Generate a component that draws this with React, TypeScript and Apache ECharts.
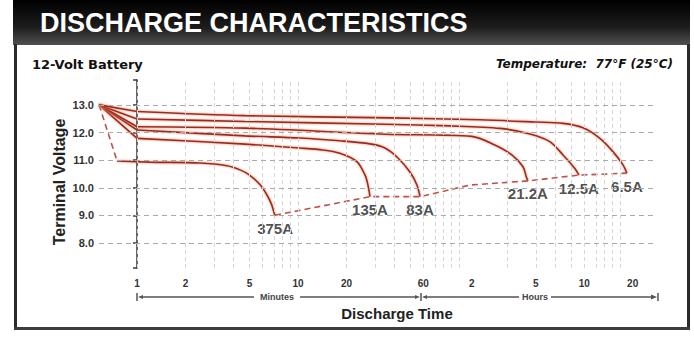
import React, { useEffect, useRef } from 'react';
import * as echarts from 'echarts';

// ---- axis data ----
const xTickMinutes = [1, 2, 5, 10, 20, 60, 120, 300, 600, 1200];
const xTickLabels = ['1', '2', '5', '10', '20', '60', '2', '5', '10', '20'];
const yTickVolts = [8, 9, 10, 11, 12, 13];
const xGridMinutes = [1, 2, 3, 4, 5, 6, 7, 8, 9, 10, 20, 30, 40, 50, 60, 70, 80, 90, 100, 200, 300, 400, 500, 600, 700, 800, 900, 1000];
const xMinMinutes = 0.58;
const xMaxMinutes = 1700;
const yMinVolt = 7.1;
const yMaxVolt = 13.9;

// ---- curves: [minutes, volts]; first point = start, second = knee ----
const curve375 = [[0.581, 13.0], [0.751, 10.97], [1.2, 10.93], [2.46, 10.9], [3.62, 10.8], [4.4, 10.64], [5.0, 10.46], [5.8, 10.12], [6.4, 9.75], [6.85, 9.4], [7.1, 9.1], [7.2, 9.01]];
const curve135 = [[0.581, 13.0], [1.0, 11.79], [4.69, 11.58], [10.3, 11.44], [14.3, 11.37], [18.2, 11.25], [23.2, 10.95], [26.1, 10.46], [27.2, 10.1], [28.0, 9.68]];
const curve83 = [[0.581, 13.0], [1.0, 12.09], [4.69, 11.88], [10.3, 11.8], [18.2, 11.7], [28.0, 11.59], [34.7, 11.44], [41.8, 11.08], [49.6, 10.57], [54.8, 10.1], [57.3, 9.68]];
const curve21 = [[0.581, 13.0], [1.0, 12.21], [4.69, 12.16], [34.7, 11.94], [120, 11.86], [167, 11.55], [213, 11.19], [250, 10.76], [262, 10.4], [268, 10.25]];
const curve12 = [[0.581, 13.0], [1.0, 12.49], [4.69, 12.4], [34.7, 12.3], [87.9, 12.24], [180, 12.15], [276, 11.95], [367, 11.67], [443, 11.19], [525, 10.7], [556, 10.46]];
const curve6 = [[0.581, 13.0], [1.0, 12.76], [4.69, 12.61], [37.3, 12.53], [135, 12.46], [297, 12.38], [443, 12.33], [589, 12.17], [751, 11.79], [905, 11.31], [1045, 10.83], [1105, 10.53]];
const endVoltage = [[7.2, 9.01], [28.0, 9.68], [57.3, 9.68], [117, 10.1], [268, 10.25], [556, 10.46], [1105, 10.53]];
const endLabels = ['375A', '135A', '83A', '', '21.2A', '12.5A', '6.5A'];

const lg = (pts: number[][]) => pts.map(([t, v]) => [Math.log10(t), v]);

const CURVE_COLOR = '#9b2a22';

function lineSeries(name: string, pts: number[][], opts: { dashed?: boolean; smooth?: number | boolean; color?: string }) {
  const dashed = !!opts.dashed;
  return {
    name,
    type: 'line',
    data: lg(pts),
    smooth: opts.smooth ?? false,
    symbol: 'none',
    z: 3,
    silent: true,
    emphasis: { disabled: true },
    lineStyle: {
      color: opts.color ?? (dashed ? '#c0504a' : CURVE_COLOR),
      width: 1.6,
      type: dashed ? [6, 4] : 'solid',
      shadowColor: 'rgba(230,120,80,0.9)',
      shadowBlur: dashed ? 0 : 2,
    },
  };
}

function curveSeries(name: string, pts: number[][], dashedFan = false) {
  return [
    lineSeries(name + '-fan', pts.slice(0, 2), { dashed: dashedFan }),
    lineSeries(name, pts.slice(1), { smooth: 0.3 }),
  ];
}

export default function App() {
  const ref = useRef<HTMLDivElement>(null);
  useEffect(() => {
    if (!ref.current) return;
    const chart = echarts.init(ref.current, null, { renderer: 'svg' });
    const xLabelFor = (v: number) => {
      for (let i = 0; i < xTickMinutes.length; i++) {
        if (Math.abs(Math.log10(xTickMinutes[i]) - v) < 1e-6) return xTickLabels[i];
      }
      return '';
    };
    const arrowY = 297;
    const lineCol = '#555';
    const option: any = {
      animation: false,
      backgroundColor: '#ffffff',
      grid: { left: 99, right: 37, top: 80, bottom: 75, containLabel: false },
      xAxis: {
        type: 'value',
        min: Math.log10(xMinMinutes),
        max: Math.log10(xMaxMinutes),
        axisLine: { show: false },
        axisTick: { show: false },
        splitLine: { show: false },
        axisLabel: {
          customValues: xTickMinutes.map((m) => Math.log10(m)),
          formatter: (v: number) => xLabelFor(v),
          fontFamily: 'Liberation Sans',
          fontWeight: 'bold',
          fontSize: 10,
          color: '#333',
          margin: 10,
        },
      },
      yAxis: {
        type: 'value',
        min: yMinVolt,
        max: yMaxVolt,
        axisLine: { show: true, lineStyle: { color: '#333', width: 1.5 } },
        axisTick: {
          show: true,
          customValues: [yMinVolt, ...yTickVolts, yMaxVolt],
          length: 4,
          lineStyle: { color: '#333', width: 1.5 },
        },
        splitLine: { show: false },
        axisLabel: {
          customValues: yTickVolts,
          formatter: (v: number) => v.toFixed(1),
          fontFamily: 'Liberation Sans',
          fontWeight: 'bold',
          fontSize: 11,
          color: '#333',
          margin: 5,
        },
      },
      series: [
        {
          name: 'grid',
          type: 'line',
          data: [[Math.log10(xMinMinutes), yMinVolt]],
          symbol: 'none',
          z: 1,
          silent: true,
          lineStyle: { opacity: 0 },
          markLine: {
            silent: true,
            symbol: ['none', 'none'],
            label: { show: false },
            emphasis: { disabled: true },
            lineStyle: { color: '#d6d6d6', type: [4, 3], width: 1 },
            data: [
              ...xGridMinutes.map((m) => ({ xAxis: Math.log10(m) })),
              ...yTickVolts.map((v) => ({ yAxis: v, lineStyle: { color: '#aaaaaa', type: [5, 4], width: 1 } })),
            ],
          },
        },
        ...curveSeries('375A', curve375, true),
        ...curveSeries('135A', curve135),
        ...curveSeries('83A', curve83),
        ...curveSeries('21.2A', curve21),
        ...curveSeries('12.5A', curve12),
        ...curveSeries('6.5A', curve6),
        lineSeries('end', endVoltage, { dashed: true }),
        {
          name: 'labels',
          type: 'scatter',
          z: 4,
          silent: true,
          symbolSize: 1,
          itemStyle: { color: 'rgba(0,0,0,0)' },
          data: endVoltage.map((p, i) => ({
            value: [Math.log10(p[0]), p[1]],
            label: {
              show: !!endLabels[i],
              formatter: endLabels[i],
              position: 'bottom',
              distance: 5,
              fontFamily: 'Liberation Sans',
              fontWeight: 'bold',
              fontSize: 15,
              color: '#222',
            },
          })),
        },
      ],
      graphic: [
        {
          type: 'rect',
          shape: { x: 13, y: 0, width: 677, height: 45 },
          style: {
            fill: new echarts.graphic.LinearGradient(0, 0, 0, 1, [
              { offset: 0, color: '#000000' },
              { offset: 0.6, color: '#1c1c1c' },
              { offset: 1, color: '#505050' },
            ]),
          },
          silent: true,
        },
        {
          type: 'text',
          x: 40,
          y: 23,
          silent: true,
          style: {
            text: 'DISCHARGE CHARACTERISTICS',
            fill: '#ffffff',
            fontFamily: 'Liberation Sans',
            fontWeight: 'bold',
            fontSize: 27,
            verticalAlign: 'middle',
          },
        },
        { type: 'rect', shape: { x: 14, y: 44, width: 3, height: 286 }, style: { fill: '#2b2b2b' }, silent: true },
        { type: 'rect', shape: { x: 687, y: 44, width: 3, height: 286 }, style: { fill: '#2b2b2b' }, silent: true },
        { type: 'rect', shape: { x: 14, y: 327, width: 676, height: 3 }, style: { fill: '#3c3c3c' }, silent: true },
        {
          type: 'text', x: 32, y: 64, silent: true,
          style: { text: '12-Volt Battery', fill: '#111', fontFamily: 'DejaVu Sans', fontWeight: 'bold', fontSize: 13, verticalAlign: 'middle' },
        },
        {
          type: 'text', x: 673, y: 64, silent: true,
          style: { text: 'Temperature:  77°F (25°C)', fill: '#111', fontFamily: 'DejaVu Sans', fontWeight: 'bold', fontStyle: 'italic', fontSize: 12, align: 'right', verticalAlign: 'middle' },
        },
        {
          type: 'text', x: 59, y: 182, rotation: Math.PI / 2, silent: true,
          style: { text: 'Terminal Voltage', fill: '#222', fontFamily: 'Liberation Sans', fontWeight: 'bold', fontSize: 16, align: 'center', verticalAlign: 'middle' },
        },
        {
          type: 'text', x: 397, y: 313, silent: true,
          style: { text: 'Discharge Time', fill: '#222', fontFamily: 'Liberation Sans', fontWeight: 'bold', fontSize: 15, align: 'center', verticalAlign: 'middle' },
        },
        // Minutes / Hours arrows
        { type: 'line', silent: true, shape: { x1: 137, y1: arrowY - 4, x2: 137, y2: arrowY + 4 }, style: { stroke: lineCol, lineWidth: 1.5 } },
        { type: 'polygon', silent: true, shape: { points: [[138, arrowY], [143, arrowY - 2], [143, arrowY + 2]] }, style: { fill: lineCol } },
        { type: 'line', silent: true, shape: { x1: 143, y1: arrowY, x2: 254, y2: arrowY }, style: { stroke: lineCol, lineWidth: 1.5 } },
        {
          type: 'text', x: 277, y: arrowY, silent: true,
          style: { text: 'Minutes', fill: '#444', fontFamily: 'Liberation Sans', fontWeight: 'bold', fontSize: 9, align: 'center', verticalAlign: 'middle' },
        },
        { type: 'line', silent: true, shape: { x1: 300, y1: arrowY, x2: 416, y2: arrowY }, style: { stroke: lineCol, lineWidth: 1.5 } },
        { type: 'polygon', silent: true, shape: { points: [[420, arrowY], [415, arrowY - 2], [415, arrowY + 2]] }, style: { fill: lineCol } },
        { type: 'line', silent: true, shape: { x1: 421, y1: arrowY - 4, x2: 421, y2: arrowY + 4 }, style: { stroke: lineCol, lineWidth: 1.5 } },
        { type: 'polygon', silent: true, shape: { points: [[422, arrowY], [427, arrowY - 2], [427, arrowY + 2]] }, style: { fill: lineCol } },
        { type: 'line', silent: true, shape: { x1: 427, y1: arrowY, x2: 519, y2: arrowY }, style: { stroke: lineCol, lineWidth: 1.5 } },
        {
          type: 'text', x: 535, y: arrowY, silent: true,
          style: { text: 'Hours', fill: '#444', fontFamily: 'Liberation Sans', fontWeight: 'bold', fontSize: 9, align: 'center', verticalAlign: 'middle' },
        },
        { type: 'line', silent: true, shape: { x1: 551, y1: arrowY, x2: 652, y2: arrowY }, style: { stroke: lineCol, lineWidth: 1.5 } },
        { type: 'polygon', silent: true, shape: { points: [[657, arrowY], [651, arrowY - 2.5], [651, arrowY + 2.5]] }, style: { fill: lineCol } },
        { type: 'line', silent: true, shape: { x1: 658, y1: arrowY - 4, x2: 658, y2: arrowY + 4 }, style: { stroke: lineCol, lineWidth: 1.5 } },
      ],
    };
    chart.setOption(option);
    return () => chart.dispose();
  }, []);
  return <div ref={ref} style={{ position: 'absolute', left: 0, top: 0, width: 694, height: 343 }} />;
}
